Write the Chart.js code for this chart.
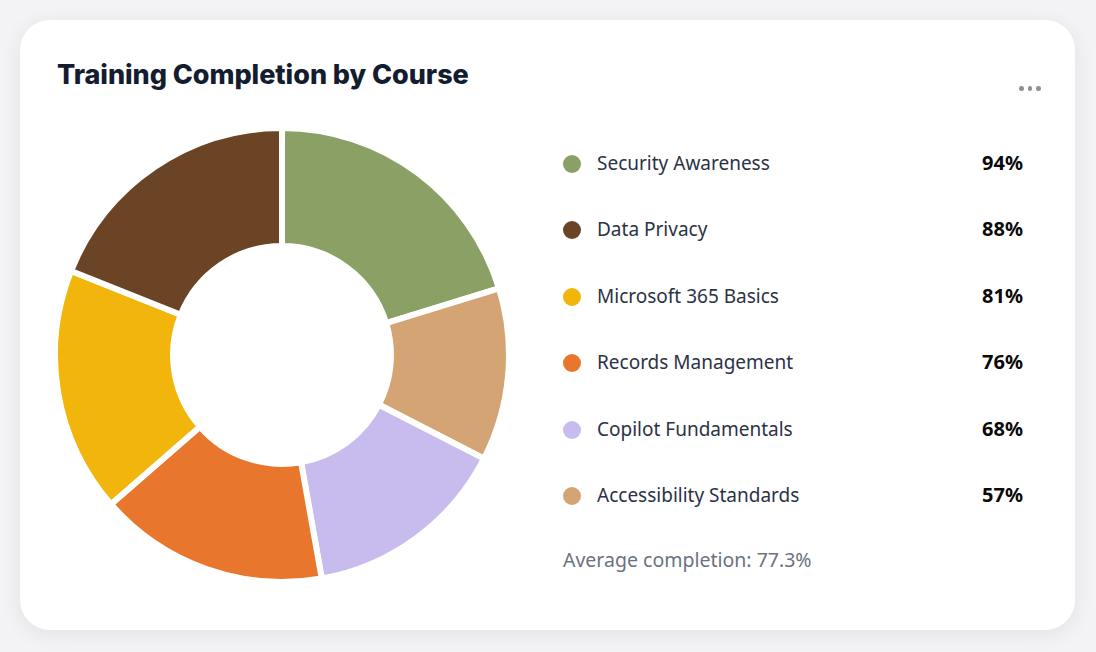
<!DOCTYPE html>
<html>
<head>
<meta charset="utf-8">
<script src="https://cdn.jsdelivr.net/npm/chart.js@4.4.1/dist/chart.umd.min.js"></script>
<style>
  html, body { margin: 0; padding: 0; width: 1096px; height: 652px; background: #f3f3f5; overflow: hidden; }
  #card { position: absolute; left: 20px; top: 20px; width: 1055px; height: 610px; background: #ffffff;
          border-radius: 30px; box-shadow: 0 4px 22px rgba(0,0,0,0.07); }
  #title { position: absolute; left: 57px; top: 58px; font-family: Inter, "Noto Sans", sans-serif; font-weight: 800;
           font-size: 27px; color: #141c2f; letter-spacing: -0.05px; white-space: nowrap; }
  #menu { position: absolute; left: 1014px; top: 81px; width: 30px; height: 16px; }
  #menu span { position: absolute; top: 5px; width: 4.5px; height: 4.5px; border-radius: 50%; background: #8b9099; }
  #chartBox { position: absolute; left: 52px; top: 125px; width: 460px; height: 460px; }
  #legend { position: absolute; left: 560px; top: 132px; width: 465px; }
  .row { position: relative; height: 66.4px; font-family: "Noto Sans", "Open Sans", sans-serif; font-size: 19px; }
  .dot { position: absolute; left: 3px; top: 23px; width: 18px; height: 18px; border-radius: 50%; }
  .lbl { position: absolute; left: 37px; top: 18px; color: #2b3245; white-space: nowrap; }
  .val { position: absolute; right: 2px; top: 17px; font-size: 20px; font-weight: 700; color: #0a0a0a; }
  #avg { position: absolute; left: 563px; top: 546px; font-family: "Noto Sans", "Open Sans", sans-serif; font-size: 19.5px; color: #6b7280; white-space: nowrap; }
</style>
</head>
<body>
<div id="card"></div>
<div id="title">Training Completion by Course</div>
<div id="menu"><span style="left:5px"></span><span style="left:13.5px"></span><span style="left:22px"></span></div>
<div id="chartBox"><canvas id="c"></canvas></div>
<div id="legend"></div>
<div id="avg"></div>
<script>
const courses = ["Security Awareness", "Data Privacy", "Microsoft 365 Basics", "Records Management", "Copilot Fundamentals", "Accessibility Standards"];
const completion = [94, 88, 81, 76, 68, 57];
const colors = ["#8ba065", "#6b4425", "#f2b50c", "#e8772d", "#c8bbed", "#d4a474"];
// order in which slices appear clockwise from 12 o'clock
const drawOrder = [0, 5, 4, 3, 2, 1];

const legend = document.getElementById('legend');
courses.forEach((name, i) => {
  const row = document.createElement('div');
  row.className = 'row';
  row.innerHTML = '<div class="dot" style="background:' + colors[i] + '"></div>' +
    '<div class="lbl">' + name + '</div><div class="val">' + completion[i] + '%</div>';
  legend.appendChild(row);
});
const avg = completion.reduce((a, b) => a + b, 0) / completion.length;
document.getElementById('avg').textContent = 'Average completion: ' + avg.toFixed(1) + '%';

new Chart(document.getElementById('c'), {
  type: 'doughnut',
  data: {
    labels: drawOrder.map(i => courses[i]),
    datasets: [{
      data: drawOrder.map(i => completion[i]),
      backgroundColor: drawOrder.map(i => colors[i]),
      borderColor: '#ffffff',
      borderWidth: 6,
      hoverOffset: 0
    }]
  },
  options: {
    responsive: true,
    maintainAspectRatio: false,
    animation: false,
    cutout: '48%',
    layout: { padding: 0 },
    plugins: { legend: { display: false }, tooltip: { enabled: false } }
  }
});
</script>
</body>
</html>
